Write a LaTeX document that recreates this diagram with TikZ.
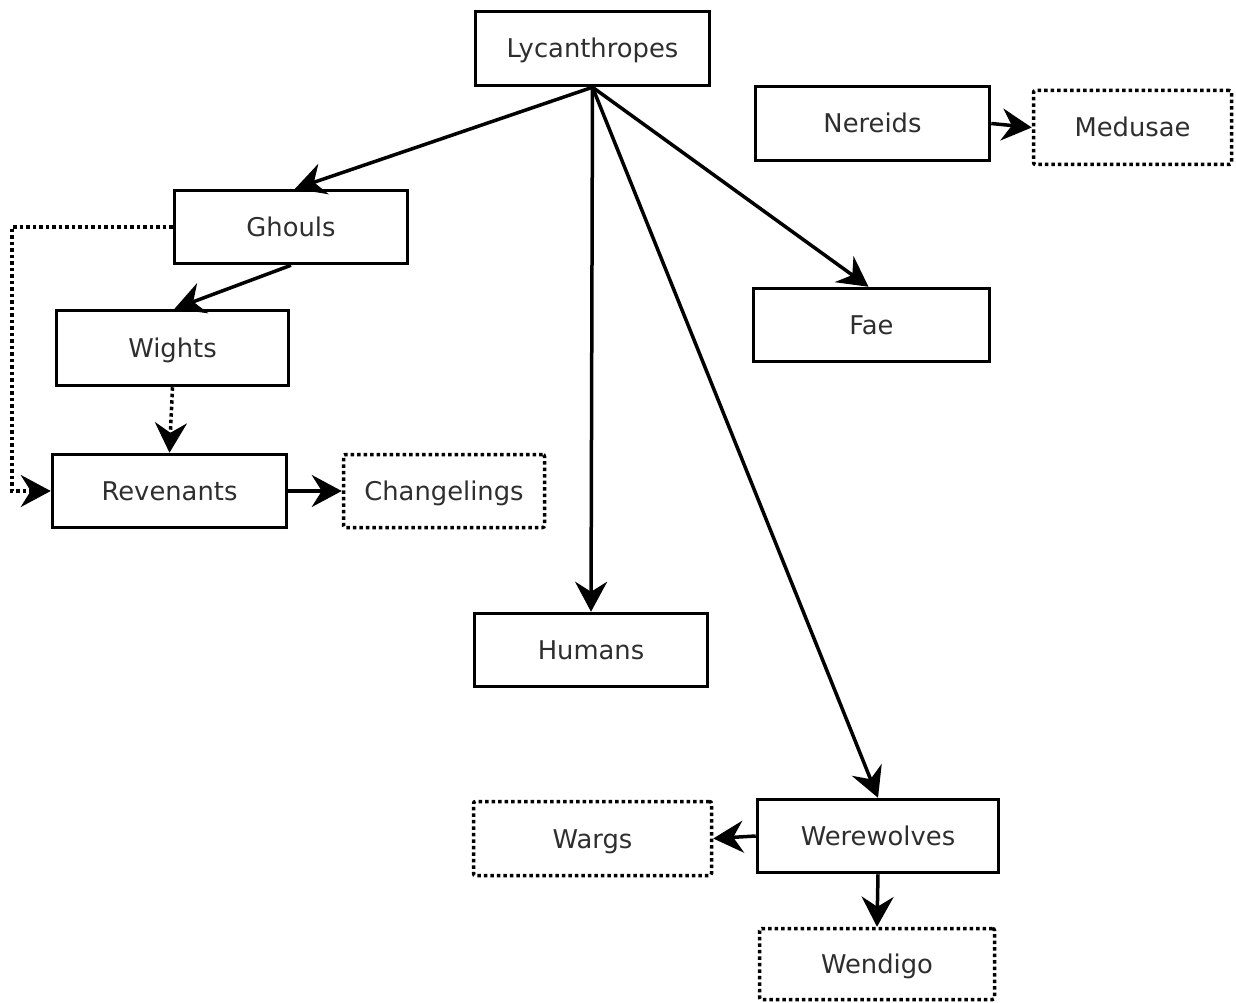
\documentclass[tikz,border=0pt]{standalone}
\usepackage{fontspec}
\setmainfont{DejaVu Sans}
\usetikzlibrary{arrows.meta}
\begin{document}
\begin{tikzpicture}[x=1pt,y=-1pt,
  box/.style={draw=black, line width=3.5pt, inner sep=0pt, text=black!82,
    font=\fontsize{25.8}{30}\selectfont, text height=19pt, text depth=0pt,
    minimum height=73pt},
  dbox/.style={box, dash pattern=on 3.5pt off 3pt, rounded corners=2pt},
  conn/.style={line width=3.5pt, -{Stealth[length=30pt,width=32pt,inset=10pt]}},
  dconn/.style={conn, dash pattern=on 3.5pt off 3pt}
]
\useasboundingbox (0,0) rectangle (1236,1003);
\node[box, minimum width=234pt, minimum height=74pt] (lyc) at (592.5,48.5) {Lycanthropes};
\node[box, minimum width=234pt, minimum height=74pt] (ner) at (872.5,123.5) {Nereids};
\node[dbox, minimum width=198pt, minimum height=74pt] (med) at (1132.5,127.5) {Medusae};
\node[box, minimum width=233pt] (gho) at (291,227) {Ghouls};
\node[box, minimum width=232pt, minimum height=75pt] (wig) at (172.5,348) {Wights};
\node[box, minimum width=236pt] (fae) at (871.5,325) {Fae};
\node[box, minimum width=234pt] (rev) at (169.5,491) {Revenants};
\node[dbox, minimum width=201pt] (cha) at (444,491) {Changelings};
\node[box, minimum width=233pt] (hum) at (591,650) {Humans};
\node[box, minimum width=241pt] (were) at (878,836) {Werewolves};
\node[dbox, minimum width=238pt, minimum height=74pt] (warg) at (592.5,838.5) {Wargs};
\node[dbox, minimum width=235pt, minimum height=71pt] (wend) at (877,964) {Wendigo};
\coordinate (gl) at (12,227);

\draw[conn] (lyc.south) -- ([xshift=4pt]gho.north);
\draw[conn] (lyc.south) -- ([xshift=-3pt]fae.north);
\draw[conn] (lyc.south) -- (hum.north);
\draw[conn] (lyc.south) -- (were.north);
\draw[conn] (gho.south) -- ([xshift=2pt]wig.north);
\draw[dconn] (wig.south) -- (rev.north);
\draw[dconn] (gho.west) -- (gl) |- (rev.west);
\draw[conn] (rev.east) -- (cha.west);
\draw[conn] (ner.east) -- (med.west);
\draw[conn] (were.west) -- (warg.east);
\draw[conn] (were.south) -- (wend.north);
\end{tikzpicture}
\end{document}
